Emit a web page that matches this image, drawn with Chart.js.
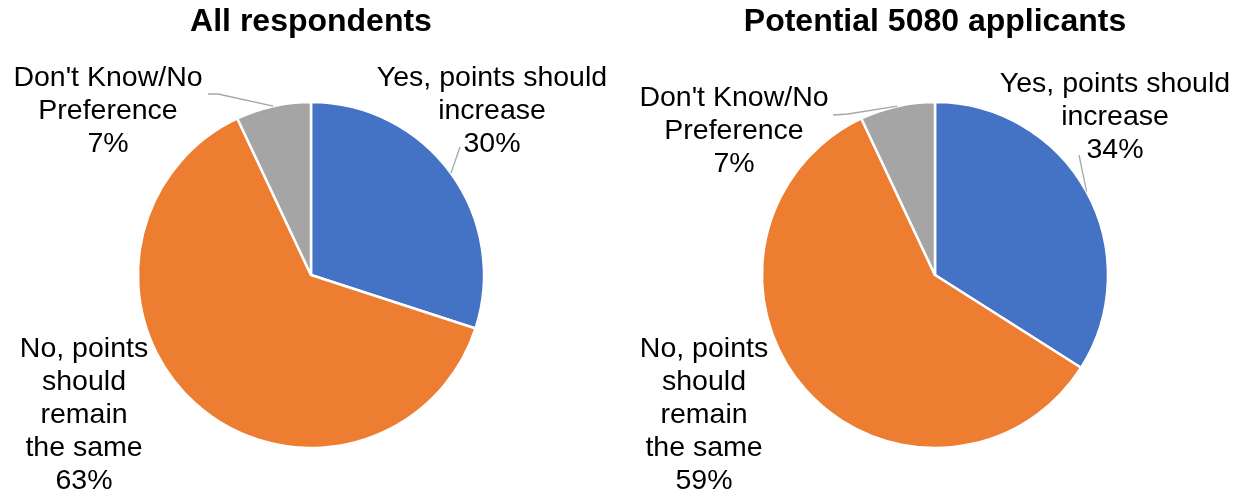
<!DOCTYPE html>
<html>
<head>
<meta charset="utf-8">
<script src="https://cdn.jsdelivr.net/npm/chart.js@4/dist/chart.umd.min.js"></script>
<style>
  html, body { margin: 0; padding: 0; background: #fff; }
  .row { display: flex; width: 1248px; height: 499px; }
  .cell { position: relative; width: 624px; height: 499px; }
</style>
</head>
<body>
<div class="row">
  <div class="cell"><canvas id="pieAll"></canvas></div>
  <div class="cell"><canvas id="pieApplicants"></canvas></div>
</div>
<script>
// Survey answers (slice order: clockwise from 12 o'clock)
const categories = [
  "Yes, points should increase",
  "No, points should remain the same",
  "Don't Know/No Preference"
];
// Category names as wrapped in the slice labels
const categoryLines = [
  ["Yes, points should", "increase"],
  ["No, points", "should", "remain", "the same"],
  ["Don't Know/No", "Preference"]
];
const allRespondents = [30, 63, 7];
const applicants5080 = [34, 59, 7];
const chartTitles = ["All respondents", "Potential 5080 applicants"];
const sliceColors = ["#4472C4", "#ED7D31", "#A5A5A5"];

// Label placement relative to the pie centre: text centre x, first baseline y,
// and the elbow/end points of the leader line (null = no leader).
const labelLayoutAll = [
  { x: 181, y: -189, leader: [[149, -128]] },
  { x: -227, y: 82, leader: null },
  { x: -203, y: -189, leader: [[-93, -181], [-103, -181]] }
];
const labelLayoutApplicants = [
  { x: 180, y: -183, leader: [[144, -120]] },
  { x: -231, y: 82, leader: null },
  { x: -201, y: -169, leader: [[-87, -161], [-102, -160]] }
];

const FONT = "'Liberation Sans', Arial, sans-serif";
const LINE_GAP = 33;

const sliceLabels = {
  id: 'sliceLabels',
  afterDatasetsDraw(chart, args, opts) {
    const ctx = chart.ctx;
    const meta = chart.getDatasetMeta(0);
    const values = chart.data.datasets[0].data;
    const total = values.reduce((a, b) => a + b, 0);
    ctx.save();
    meta.data.forEach((arc, i) => {
      const p = arc.getProps(['x', 'y', 'startAngle', 'endAngle', 'outerRadius'], true);
      const lay = opts.layout[i];
      // leader line from the middle of the slice edge
      if (lay.leader) {
        const mid = (p.startAngle + p.endAngle) / 2;
        ctx.beginPath();
        ctx.moveTo(p.x + Math.cos(mid) * p.outerRadius, p.y + Math.sin(mid) * p.outerRadius);
        lay.leader.forEach(pt => ctx.lineTo(p.x + pt[0], p.y + pt[1]));
        ctx.strokeStyle = '#A6A6A6';
        ctx.lineWidth = 1.3;
        ctx.stroke();
      }
      const pct = Math.round(values[i] / total * 100) + '%';
      const lines = categoryLines[i].concat([pct]);
      ctx.fillStyle = '#000';
      ctx.font = '28.5px ' + FONT;
      ctx.textAlign = 'center';
      ctx.textBaseline = 'alphabetic';
      lines.forEach((t, k) => ctx.fillText(t, p.x + lay.x, p.y + lay.y + k * LINE_GAP));
    });
    ctx.restore();
  }
};

function makePie(canvasId, title, values, layout) {
  return new Chart(document.getElementById(canvasId), {
    type: 'pie',
    data: {
      labels: categories,
      datasets: [{
        data: values,
        backgroundColor: sliceColors,
        borderColor: '#ffffff',
        borderWidth: 2.5,
        radius: 173
      }]
    },
    options: {
      responsive: true,
      maintainAspectRatio: false,
      animation: false,
      events: [],
      layout: { padding: { left: 0, right: 2, top: 0, bottom: 0 } },
      plugins: {
        legend: { display: false },
        tooltip: { enabled: false },
        title: {
          display: true,
          text: title,
          color: '#000',
          font: { family: FONT, size: 32, weight: 'bold', lineHeight: 1.2 },
          padding: { top: 3, bottom: 9.6 }
        },
        sliceLabels: { layout: layout }
      }
    },
    plugins: [sliceLabels]
  });
}

makePie('pieAll', chartTitles[0], allRespondents, labelLayoutAll);
makePie('pieApplicants', chartTitles[1], applicants5080, labelLayoutApplicants);
</script>
</body>
</html>
